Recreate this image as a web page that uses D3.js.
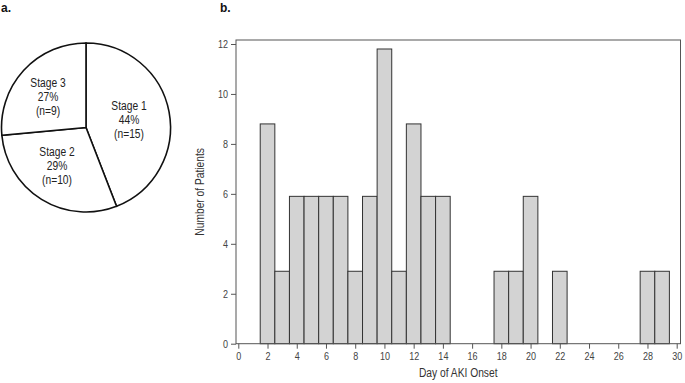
<!DOCTYPE html>
<html><head><meta charset="utf-8">
<script src="https://cdn.jsdelivr.net/npm/d3@7"></script>
<style>
html,body{margin:0;padding:0;background:#fff;}
svg{display:block;}
text{font-family:"Liberation Sans",Arial,sans-serif;}
</style>
</head><body>
<svg id="c" width="685" height="383"></svg>
<script>
const stageLabels = ["Stage 1", "Stage 2", "Stage 3"];
const stageCounts = [15, 10, 9];
const stagePercents = ["44%", "29%", "27%"];

const days = [2, 3, 4, 5, 6, 7, 8, 9, 10, 11, 12, 13, 14, 18, 19, 20, 22, 28, 29];
const patientValues = [8.8, 2.9, 5.9, 5.9, 5.9, 5.9, 2.9, 5.9, 11.8, 2.9, 8.8, 5.9, 5.9, 2.9, 2.9, 5.9, 2.9, 2.9, 2.9];
const xTicks = [0, 2, 4, 6, 8, 10, 12, 14, 16, 18, 20, 22, 24, 26, 28, 30];
const yTicks = [0, 2, 4, 6, 8, 10, 12];

const NARROW = 0.82;
const svg = d3.select("#c");

// Panel labels
svg.append("text").attr("x", 1).attr("y", 12).attr("font-size", 12).attr("font-weight", "bold").attr("fill", "#111").text("a.");
svg.append("text").attr("x", 220).attr("y", 12).attr("font-size", 12).attr("font-weight", "bold").attr("fill", "#111").text("b.");

// Pie
const cx = 86, cy = 127.5, r = 84.5;
const pie = d3.pie().sort(null).value(d => d)(stageCounts);
const arc = d3.arc().innerRadius(0).outerRadius(r);
const g = svg.append("g").attr("transform", `translate(${cx},${cy})`);
g.selectAll("path").data(pie).join("path")
  .attr("d", arc).attr("fill", "#fff").attr("stroke", "#111").attr("stroke-width", 1.6);
const labelPos = [[43, -8], [-29, 38], [-38, -31]];
pie.forEach((p, i) => {
  const t = g.append("text").attr("text-anchor", "middle").attr("font-size", 12.5).attr("fill", "#222")
    .attr("transform", `translate(${labelPos[i][0]},${labelPos[i][1]}) scale(${NARROW},1)`);
  const lines = [stageLabels[i], stagePercents[i], `(n=${stageCounts[i]})`];
  lines.forEach((l, j) => t.append("tspan").attr("x", 0).attr("y", (j - 1) * 14 + 4.5).text(l));
});

// Histogram
const L = 236, R = 680.5, T = 40, B = 343.7;
const x = d3.scaleLinear().domain([0, 30]).range([238.3, 676.7]);
const y = d3.scaleLinear().domain([0, 12]).range([B, 44]);

svg.append("g").selectAll("rect").data(days).join("rect")
  .attr("x", d => x(d - 0.5)).attr("width", d => x(d + 0.5) - x(d - 0.5))
  .attr("y", (d, i) => y(patientValues[i])).attr("height", (d, i) => B - y(patientValues[i]))
  .attr("fill", "#d3d3d3").attr("stroke", "#333").attr("stroke-width", 1);

// frame
svg.append("rect").attr("x", L).attr("y", T).attr("width", R - L).attr("height", B - T)
  .attr("fill", "none").attr("stroke", "#555").attr("stroke-width", 1);

const xa = svg.append("g").attr("transform", `translate(0,${B})`)
  .call(d3.axisBottom(x).tickValues(xTicks).tickSize(5).tickSizeOuter(0));
const ya = svg.append("g").attr("transform", `translate(${L},0)`)
  .call(d3.axisLeft(y).tickValues(yTicks).tickSize(5).tickSizeOuter(0));
[xa, ya].forEach(a => {
  a.select(".domain").remove();
  a.selectAll("line").attr("stroke", "#555");
  a.selectAll("text").attr("font-size", 11).attr("fill", "#444")
    .attr("font-family", '"Liberation Sans",Arial,sans-serif');
});
xa.selectAll("text").attr("y", 8).attr("dy", "0.78em").attr("transform", `scale(${NARROW},1)`);
ya.selectAll("text").attr("x", -8 / NARROW).attr("transform", `scale(${NARROW},1)`);

svg.append("text").attr("transform", `translate(${(L + R) / 2},377) scale(${NARROW},1)`).attr("text-anchor", "middle")
  .attr("font-size", 12.5).attr("fill", "#333").text("Day of AKI Onset");
svg.append("text").attr("transform", `translate(204,${(T + B) / 2}) rotate(-90) scale(${NARROW},1)`).attr("text-anchor", "middle")
  .attr("font-size", 12.5).attr("fill", "#333").text("Number of Patients");
</script>
</body></html>
